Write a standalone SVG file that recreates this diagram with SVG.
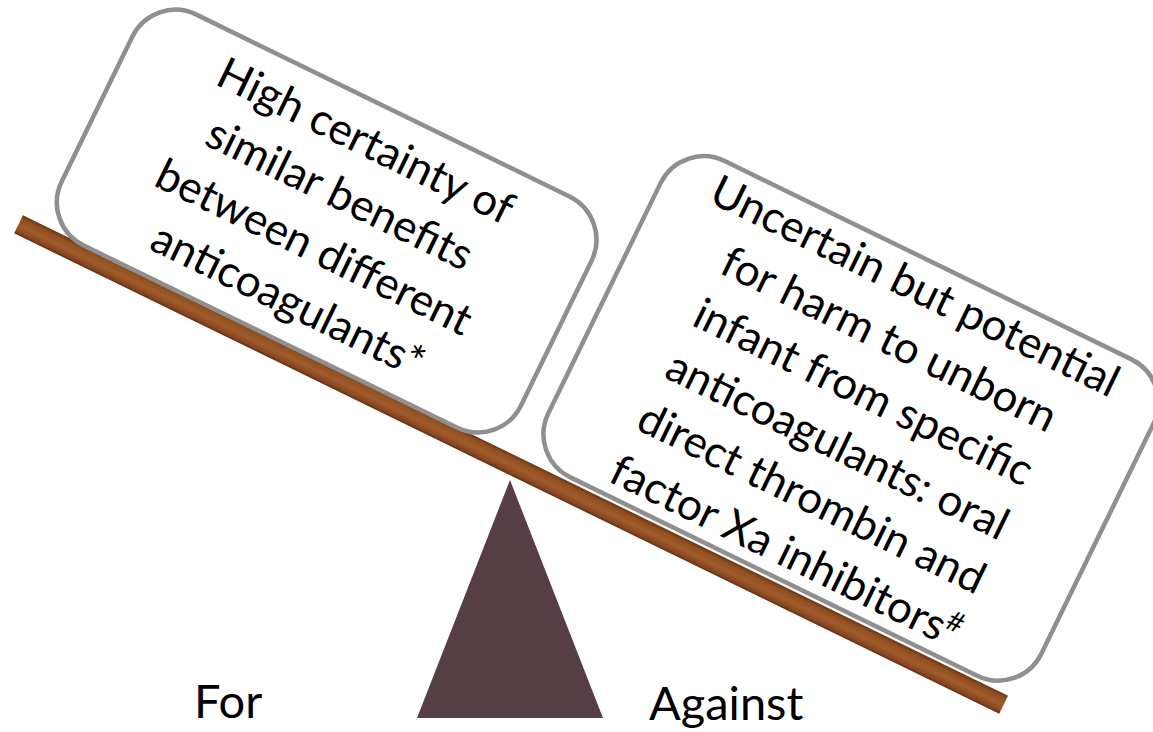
<svg xmlns="http://www.w3.org/2000/svg" width="1153" height="732" viewBox="0 0 1153 732">
<defs>
<linearGradient id="wood" x1="0" y1="0" x2="0" y2="1">
<stop offset="0" stop-color="#6a3516"/>
<stop offset="0.2" stop-color="#92501f"/>
<stop offset="0.55" stop-color="#9e5b2b"/>
<stop offset="0.85" stop-color="#8a4720"/>
<stop offset="1" stop-color="#5e2e14"/>
</linearGradient>
<style>
.box{fill:#ffffff;stroke:#8f8f8f;stroke-width:4.5}
.t{font-family:Lato,"Liberation Sans",sans-serif;font-size:44px;fill:#000000;text-anchor:middle}
.lbl{font-family:Lato,"Liberation Sans",sans-serif;font-size:47px;fill:#000000}
</style>
</defs>
<g id="fulcrum">
<polygon points="510,480 417,718 603,718" fill="#553f44"/>
</g>
<g id="beam" transform="rotate(26)">
<rect x="115" y="183.5" width="1096" height="20" fill="url(#wood)"/>
</g>
<g id="box-for" transform="rotate(26)">
<rect class="box" x="135" y="-73" width="511" height="257" rx="48" ry="48"/>
<text class="t" x="390.5" y="-18.5">High certainty of</text>
<text class="t" x="390.5" y="40.5">similar benefits</text>
<text class="t" x="390.5" y="99.5">between different</text>
<text class="t" x="390.5" y="158.5">anticoagulants*</text>
</g>
<g id="box-against" transform="rotate(26)">
<rect class="box" x="674" y="-173" width="548.5" height="352" rx="48" ry="48"/>
<text class="t" x="948" y="-129">Uncertain but potential</text>
<text class="t" x="948" y="-70">for harm to unborn</text>
<text class="t" x="948" y="-11">infant from specific</text>
<text class="t" x="948" y="48">anticoagulants: oral</text>
<text class="t" x="948" y="107">direct thrombin and</text>
<text class="t" x="948" y="166">factor Xa inhibitors<tspan font-size="28" dy="-16">#</tspan></text>
</g>
<g id="label-for">
<text class="lbl" x="194" y="718">For</text>
</g>
<g id="label-against">
<text class="lbl" x="649" y="720">Against</text>
</g>
</svg>
